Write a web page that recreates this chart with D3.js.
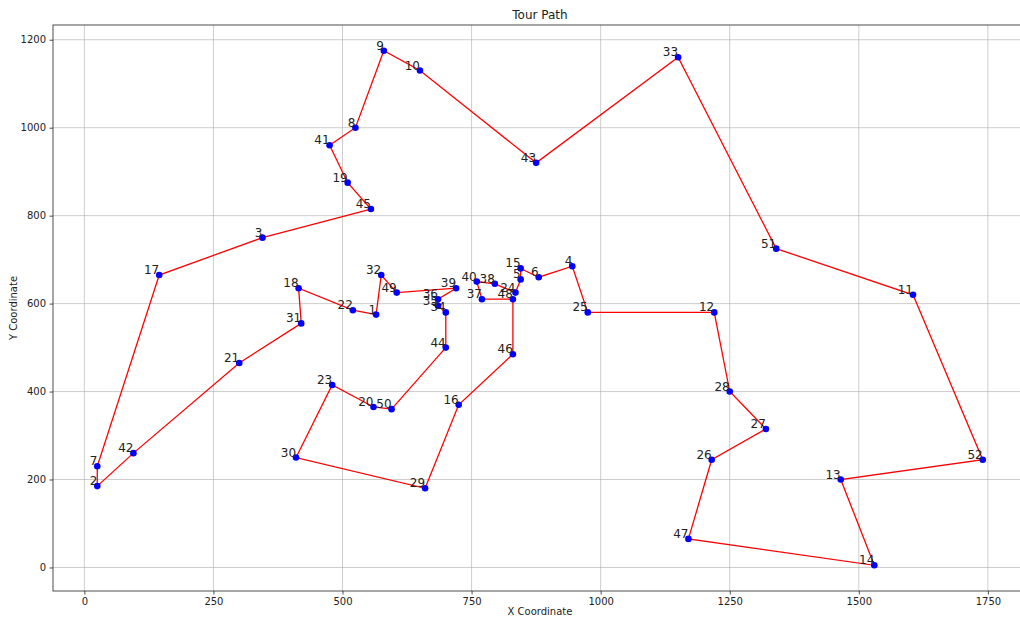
<!DOCTYPE html>
<html lang="en">
<head>
  <meta charset="UTF-8" />
  <title>Tour Path</title>
  <script src="https://d3js.org/d3.v7.min.js"></script>
  <style>
    html, body { margin: 0; padding: 0; background: #fff; overflow: hidden; }
    svg { display: block; font-family: "DejaVu Sans", sans-serif; }
  </style>
</head>
<body>
<svg width="1020" height="619"></svg>
<script>
  // city ids and coordinates (berlin52-like)
  const cityIds = [1,2,3,4,5,6,7,8,9,10,11,12,13,14,15,16,17,18,19,20,21,22,23,24,25,26,
    27,28,29,30,31,32,33,34,35,36,37,38,39,40,41,42,43,44,45,46,47,48,49,50,51,52];
  const cityX = [565,25,345,945,845,880,25,525,580,650,1605,1220,1465,1530,845,725,145,415,510,560,300,520,480,835,975,1215,
    1320,1250,660,410,420,575,1150,700,685,685,770,795,720,760,475,95,875,700,555,830,1170,830,605,595,1340,1740];
  const cityY = [575,185,750,685,655,660,230,1000,1175,1130,620,580,200,5,680,370,665,635,875,365,465,585,415,625,580,245,
    315,400,180,250,555,665,1160,580,595,610,610,645,635,650,960,260,920,500,815,485,65,610,625,360,725,245];
  const tourOrder = [1,22,18,31,21,42,2,7,17,3,45,19,41,8,9,10,43,33,51,11,52,13,14,47,26,27,28,12,25,4,
    6,15,5,24,38,40,37,48,46,16,29,30,23,20,50,44,34,35,36,39,49,32,1];
  const xTicks = [0,250,500,750,1000,1250,1500,1750];
  const yTicks = [0,200,400,600,800,1000,1200];

  const svg = d3.select("svg");
  const mLeft = 53, mRight = 1027, mTop = 25, mBottom = 591;

  const cities = cityIds.map((id, i) => ({ id, x: cityX[i], y: cityY[i] }));
  const byId = new Map(cities.map(c => [c.id, c]));

  const x = d3.scaleLinear().domain([-60.75, 1825.75]).range([mLeft, mRight]);
  const y = d3.scaleLinear().domain([-53.5, 1233.5]).range([mBottom, mTop]);

  // grid
  const grid = svg.append("g").attr("stroke", "#b0b0b0").attr("stroke-width", 0.8).attr("stroke-opacity", 0.8);
  grid.selectAll(".gx").data(xTicks).join("line").attr("class", "gx")
    .attr("x1", d => x(d)).attr("x2", d => x(d)).attr("y1", mTop).attr("y2", mBottom);
  grid.selectAll(".gy").data(yTicks).join("line").attr("class", "gy")
    .attr("x1", mLeft).attr("x2", mRight).attr("y1", d => y(d)).attr("y2", d => y(d));

  // axes
  const fmt = d3.format("d");
  const xAxis = svg.append("g").attr("transform", `translate(0,${mBottom})`)
    .call(d3.axisBottom(x).tickValues(xTicks).tickFormat(fmt).tickSize(3.5).tickPadding(3.5));
  const yAxis = svg.append("g").attr("transform", `translate(${mLeft},0)`)
    .call(d3.axisLeft(y).tickValues(yTicks).tickFormat(fmt).tickSize(3.5).tickPadding(3.5));
  [xAxis, yAxis].forEach(a => {
    a.select(".domain").remove();
    a.selectAll("text").attr("font-size", 10).attr("fill", "#222").attr("font-family", "DejaVu Sans, sans-serif");
    a.selectAll("line").attr("stroke", "#222").attr("stroke-width", 0.8);
  });

  // frame
  svg.append("rect").attr("x", mLeft).attr("y", mTop)
    .attr("width", mRight - mLeft).attr("height", mBottom - mTop)
    .attr("fill", "none").attr("stroke", "#222").attr("stroke-width", 0.8);

  // tour
  const line = d3.line().x(d => x(d.x)).y(d => y(d.y));
  svg.append("path").datum(tourOrder.map(id => byId.get(id)))
    .attr("d", line).attr("fill", "none").attr("stroke", "red").attr("stroke-width", 1.3);

  svg.append("g").selectAll("circle").data(cities).join("circle")
    .attr("cx", d => x(d.x)).attr("cy", d => y(d.y)).attr("r", 3.3).attr("fill", "blue");

  svg.append("g").selectAll("text").data(cities).join("text")
    .attr("x", d => x(d.x)).attr("y", d => y(d.y) - 1)
    .attr("text-anchor", "end").attr("font-size", 12).attr("fill", "#222")
    .text(d => d.id);

  // titles
  svg.append("text").attr("x", (mLeft + mRight) / 2).attr("y", 19).attr("text-anchor", "middle")
    .attr("font-size", 12).attr("fill", "#222").text("Tour Path");
  svg.append("text").attr("x", (mLeft + mRight) / 2).attr("y", 615).attr("text-anchor", "middle")
    .attr("font-size", 10).attr("fill", "#222").text("X Coordinate");
  svg.append("text").attr("transform", `translate(17,${(mTop + mBottom) / 2}) rotate(-90)`)
    .attr("text-anchor", "middle").attr("font-size", 10).attr("fill", "#222").text("Y Coordinate");
</script>
</body>
</html>
